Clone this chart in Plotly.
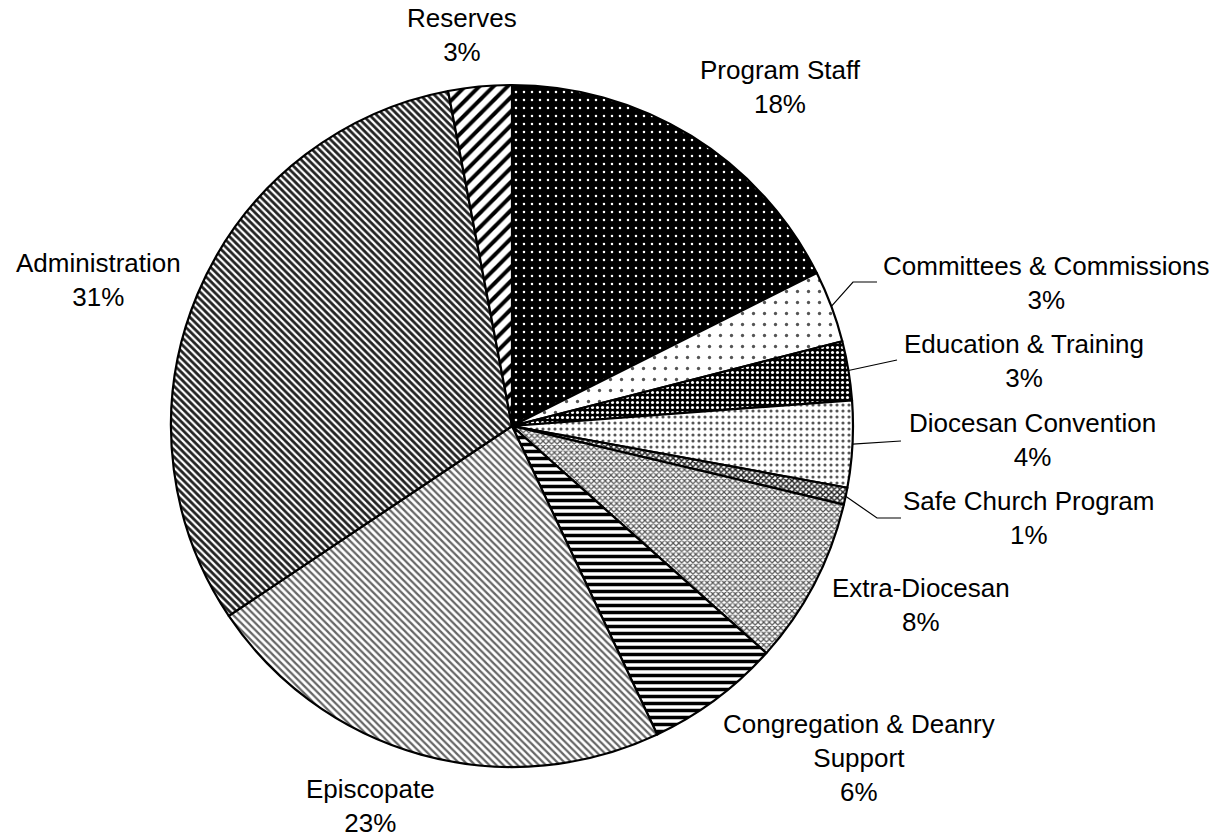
import math
import plotly.graph_objects as go

# Budget shares by category (percent of total)
categories = [
    "Program Staff", "Committees & Commissions", "Education & Training",
    "Diocesan Convention", "Safe Church Program", "Extra-Diocesan",
    "Congregation & Deanry<br>Support", "Episcopate", "Administration", "Reserves",
]
shares = [17.6, 3.4, 2.8, 4.1, 0.8, 7.9, 6.4, 22.6, 31.4, 3.0]

# Fill patterns per slice
pat_shape = [".", ".", ".", ".", "x", "x", "-", "\\", "\\", "/"]
pat_bg = ["black", "white", "black", "white", "white", "white", "white", "white", "white", "white"]
pat_fg = ["white", "#555555", "white", "#555555", "#222222", "#555555", "black", "#666666", "#222222", "black"]
pat_size = [8, 11, 5, 6, 4, 4, 7, 5, 5, 10]
pat_solid = [0.08, 0.07, 0.3, 0.22, 0.6, 0.5, 0.5, 0.45, 0.55, 0.4]

W, H = 1226, 838
CX, CY, R = 512, 426, 341  # pie centre and radius in page pixels

# Label block centres (page pixels) and leader end points (None = no leader)
label_pos = [
    (780, 87), (1046, 283), (1024, 361), (1032, 440), (1028, 518),
    (921, 605), (859, 758), (370, 806), (98, 280), (462, 35),
]
leader_end = [None, (877, 282), (897, 360), (901, 441), (901, 518),
              None, None, None, None, None]
leader_elbow = [False, True, False, False, True, False, False, False, False, False]


def px(x):
    return x / W


def py(y):
    return 1 - y / H


fig = go.Figure(go.Pie(
    labels=categories,
    values=shares,
    sort=False,
    direction="clockwise",
    rotation=0,
    textinfo="none",
    hoverinfo="label+percent",
    marker=dict(
        line=dict(color="black", width=2.2),
        pattern=dict(shape=pat_shape, bgcolor=pat_bg, fgcolor=pat_fg,
                     size=pat_size, solidity=pat_solid, fillmode="replace"),
    ),
    domain=dict(x=[px(CX - R), px(CX + R)], y=[py(CY + R), py(CY - R)]),
    showlegend=False,
))

total = sum(shares)
annotations = []
shapes = []
cum = 0.0
for name, v, (lx, ly), end, elbow in zip(categories, shares, label_pos, leader_end, leader_elbow):
    mid = (cum + v / 2) / total * 2 * math.pi
    cum += v
    pct = int(math.floor(v / total * 100 + 0.5))
    annotations.append(dict(
        x=px(lx), y=py(ly), xref="paper", yref="paper",
        text=f"{name}<br>{pct}%", showarrow=False,
        xanchor="center", yanchor="middle", align="center",
        font=dict(family="Liberation Sans, Arial, sans-serif", size=26, color="black"),
    ))
    if end is not None:
        ex, ey = CX + R * math.sin(mid), CY - R * math.cos(mid)
        pts = [(ex, ey)]
        if elbow:
            pts.append((end[0] - 24, end[1]))
        pts.append(end)
        path = "M " + " L ".join(f"{px(a):.5f},{py(b):.5f}" for a, b in pts)
        shapes.append(dict(type="path", path=path, xref="paper", yref="paper",
                           line=dict(color="black", width=1.2)))

fig.update_layout(
    width=W, height=H,
    margin=dict(l=0, r=0, t=0, b=0),
    paper_bgcolor="white", plot_bgcolor="white",
    annotations=annotations, shapes=shapes,
)

fig.write_html("out.html")
